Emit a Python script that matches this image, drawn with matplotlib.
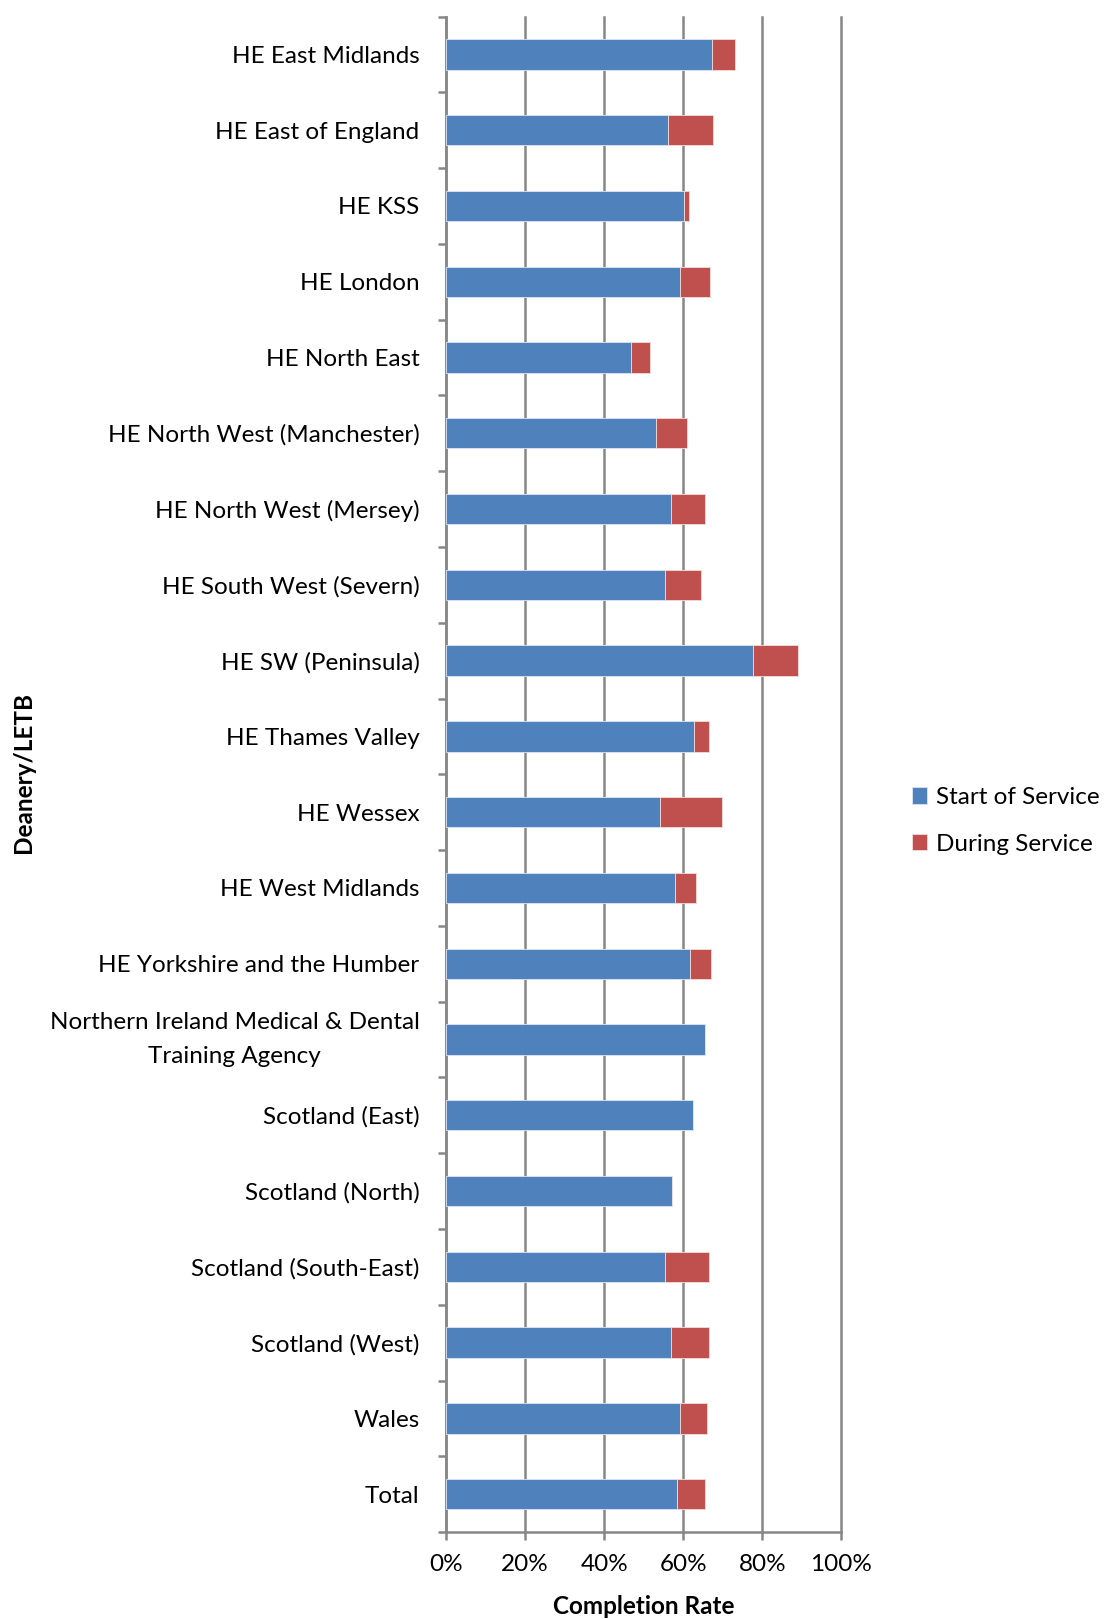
import numpy as np
import matplotlib.pyplot as plt
from matplotlib.ticker import FuncFormatter, FixedLocator

# Completion rates per deanery (fractions), top to bottom as shown
deaneries = [
    'HE East Midlands', 'HE East of England', 'HE KSS', 'HE London',
    'HE North East', 'HE North West (Manchester)', 'HE North West (Mersey)',
    'HE South West (Severn)', 'HE SW (Peninsula)', 'HE Thames Valley',
    'HE Wessex', 'HE West Midlands', 'HE Yorkshire and the Humber',
    'Northern Ireland Medical & Dental\nTraining Agency',
    'Scotland (East)', 'Scotland (North)', 'Scotland (South-East)',
    'Scotland (West)', 'Wales', 'Total',
]
start_of_service = [0.673, 0.561, 0.602, 0.592, 0.468, 0.531, 0.569,
                    0.554, 0.776, 0.627, 0.541, 0.579, 0.617, 0.655,
                    0.624, 0.571, 0.554, 0.568, 0.592, 0.584]
during_service = [0.059, 0.114, 0.013, 0.076, 0.047, 0.079, 0.086,
                  0.090, 0.113, 0.039, 0.158, 0.054, 0.053, 0.0,
                  0.0, 0.0, 0.112, 0.098, 0.068, 0.071]

BLUE = '#4F81BD'
RED = '#C0504D'
GRID = '#878787'
FS = 17.5

plt.rcParams['font.family'] = ['Lato', 'DejaVu Sans']

fig = plt.figure(figsize=(11.04, 16.19), dpi=100)
ax = fig.add_axes([0.404, 0.0537, 0.3582, 0.9361])

y = np.arange(len(deaneries))
sos = np.array(start_of_service)
dur = np.array(during_service)

ax.barh(y, sos, height=0.4, color=BLUE, edgecolor='#dce6f2', linewidth=0.6,
        label='Start of Service', zorder=3)
ax.barh(y, dur, left=sos, height=0.4, color=RED, edgecolor='#f2dcdb',
        linewidth=0.6, label='During Service', zorder=3)

ax.set_xlim(0, 1)
ax.set_ylim(len(deaneries) - 0.5, -0.5)

ax.set_xticks(np.arange(0, 1.01, 0.2))
ax.xaxis.set_major_formatter(FuncFormatter(lambda v, p: f'{v:.0%}'))
ax.grid(axis='x', color=GRID, linewidth=1.8, zorder=0)
for gl in ax.get_xgridlines():
    gl.set_clip_on(False)

ax.set_yticks(y)
ax.set_yticklabels(deaneries, fontsize=FS, linespacing=1.75)
ax.yaxis.set_minor_locator(FixedLocator(np.arange(-0.5, len(deaneries), 1)))
ax.tick_params(axis='y', which='major', length=0, pad=0)
ax.tick_params(axis='y', which='minor', length=6, width=1.8, color=GRID)
ax.tick_params(axis='x', length=6, width=1.8, color=GRID, labelsize=FS, pad=10)

# right-align the labels, centre the lines of the two-line one
for lab in ax.get_yticklabels():
    lab.set_horizontalalignment('right')
    lab.set_multialignment('center')
    lab.set_x(-0.067)
    if '\n' in lab.get_text():
        lab.set_verticalalignment('center')

for side in ['top', 'right']:
    ax.spines[side].set_visible(False)
for side in ['left', 'bottom']:
    ax.spines[side].set_color(GRID)
    ax.spines[side].set_linewidth(1.8)

ax.set_xlabel('Completion Rate', fontsize=FS, fontweight='bold', labelpad=14)
fig.text(0.021, 0.523, 'Deanery/LETB', rotation=90, fontsize=FS,
         fontweight='bold', ha='center', va='center')

ax.legend(loc='center left', bbox_to_anchor=(0.806, 0.493),
          bbox_transform=fig.transFigure, frameon=False, fontsize=FS,
          handlelength=0.65, handleheight=0.65, handletextpad=0.35,
          labelspacing=1.05)

plt.savefig('out.png', dpi=100)
